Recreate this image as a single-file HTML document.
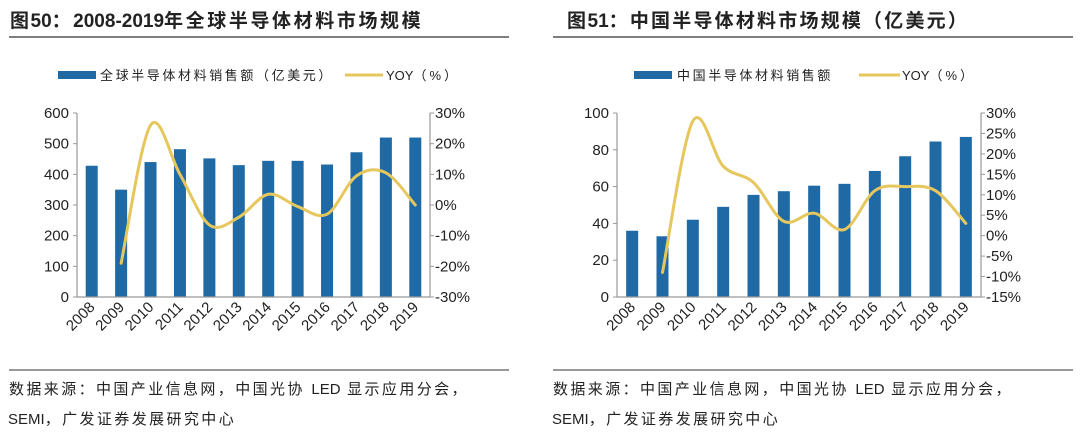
<!DOCTYPE html>
<html><head><meta charset="utf-8"><style>
body{margin:0;background:#fff;width:1080px;height:437px;overflow:hidden;font-family:"Liberation Sans","Noto Sans CJK SC",sans-serif;}
svg{position:absolute;left:0;top:0}
</style></head><body>
<svg id="s" width="1080" height="437">
<g>
<text x="10" y="27" font-size="19" font-weight="bold" fill="#222"><tspan letter-spacing="1.5">图</tspan>50<tspan letter-spacing="2.5">：</tspan>2008-2019<tspan letter-spacing="2.6">年全球半导体材料市场规模</tspan></text>
<line x1="9" y1="37" x2="509" y2="37" stroke="#555" stroke-width="1.5"/>
<rect x="58" y="71" width="38" height="8" fill="#1f6aa5"/>
<text x="100" y="80" font-size="13" fill="#222" letter-spacing="2.6">全球半导体材料销售额（亿美元）</text>
<line x1="345" y1="75" x2="383" y2="75" stroke="#e6c75e" stroke-width="3"/>
<text x="386" y="80" font-size="13" fill="#222">YOY<tspan letter-spacing="3">（%）</tspan></text>
</g>
<g>
<text x="567" y="27" font-size="19" font-weight="bold" fill="#222"><tspan letter-spacing="1.5">图</tspan>51<tspan letter-spacing="2.2">：中国半导体材料市场规模（亿美元）</tspan></text>
<line x1="553" y1="37" x2="1073" y2="37" stroke="#555" stroke-width="1.5"/>
<rect x="634" y="71" width="38" height="8" fill="#1f6aa5"/>
<text x="677" y="80" font-size="13" fill="#222" letter-spacing="2.6">中国半导体材料销售额</text>
<line x1="859" y1="75" x2="900" y2="75" stroke="#e6c75e" stroke-width="3"/>
<text x="902" y="80" font-size="13" fill="#222">YOY<tspan letter-spacing="3">（%）</tspan></text>
</g>
<g>
<line x1="9" y1="370" x2="509" y2="370" stroke="#333" stroke-width="1"/>
<text x="9" y="394" font-size="15" fill="#222"><tspan letter-spacing="2.4">数据来源：中国产业信息网，中国光协 </tspan>LED<tspan letter-spacing="2.4"> 显示应用分会，</tspan></text>
<text x="8" y="424" font-size="15" fill="#222">SEMI<tspan letter-spacing="2.4">，广发证券发展研究中心</tspan></text>
<line x1="553" y1="370" x2="1073" y2="370" stroke="#333" stroke-width="1"/>
<text x="553" y="394" font-size="15" fill="#222"><tspan letter-spacing="2.4">数据来源：中国产业信息网，中国光协 </tspan>LED<tspan letter-spacing="2.4"> 显示应用分会，</tspan></text>
<text x="552" y="424" font-size="15" fill="#222">SEMI<tspan letter-spacing="2.4">，广发证券发展研究中心</tspan></text>
</g>
</svg>
<script>
const years=['2008','2009','2010','2011','2012','2013','2014','2015','2016','2017','2018','2019'];
const globalSales=[428,350,440,482,452,430,444,444,432,472,520,520];
const globalYoy=[null,-19,26,10,-6.5,-4,3.5,-0.5,-3,9.5,10.5,0];
const globalLeftTicks=[0,100,200,300,400,500,600];
const globalRightTicks=[-30,-20,-10,0,10,20,30];
const chinaSales=[36,33,42,49,55.5,57.5,60.5,61.5,68.5,76.5,84.5,87];
const chinaYoy=[null,-9,28,17,13,3.5,5.5,1.5,11,12,11,3];
const chinaLeftTicks=[0,20,40,60,80,100];
const chinaRightTicks=[-15,-10,-5,0,5,10,15,20,25,30];

const NS='http://www.w3.org/2000/svg';
const svg=document.getElementById('s');
function mk(tag,attrs,parent){const e=document.createElementNS(NS,tag);for(const k in attrs)e.setAttribute(k,attrs[k]);(parent||svg).appendChild(e);return e;}

function draw(prefix,x0,x1,sales,yoy,lt,rt){
  const yTop=113,yBot=297;
  const g=mk('g',{});
  
  
  const lmin=lt[0],lmax=lt[lt.length-1],rmin=rt[0],rmax=rt[rt.length-1];
  const yL=v=>yBot-(v-lmin)/(lmax-lmin)*(yBot-yTop);
  const yR=v=>yBot-(v-rmin)/(rmax-rmin)*(yBot-yTop);
  const band=(x1-x0)/years.length;
  const xc=i=>x0+band*(i+0.5);
  const al=mk('line',{x1:x0,y1:yTop,x2:x0,y2:yBot,stroke:'#999','stroke-width':1.2},g);
  
  
  const ar=mk('line',{x1:x1,y1:yTop,x2:x1,y2:yBot,stroke:'#999','stroke-width':1.2},g);
  
  
  lt.forEach(t=>{
    const y=yL(t);
    mk('line',{x1:x0-4,y1:y,x2:x0,y2:y,stroke:'#999'},g);
    const tx=mk('text',{x:x0-8,y:y+5,'font-size':15,'text-anchor':'end',fill:'#222'},g);
    tx.textContent=t;
    
    
  });
  rt.forEach(t=>{
    const y=yR(t);
    mk('line',{x1:x1,y1:y,x2:x1+4,y2:y,stroke:'#999'},g);
    const tx=mk('text',{x:x1+5,y:y+5,'font-size':15,fill:'#222'},g);
    tx.textContent=t+'%';
    
    
  });
  sales.forEach((v,i)=>{
    const r=mk('rect',{x:xc(i)-6,y:yL(v),width:12,height:yBot-yL(v),fill:'#1f6aa5'},g);
    
    
  });
  mk('line',{x1:x0,y1:yBot,x2:x1,y2:yBot,stroke:'#999','stroke-width':1.2},g);
  years.forEach((yr,i)=>{
    const tx=mk('text',{x:xc(i)+4,y:yBot+11,'font-size':15,'text-anchor':'end',fill:'#222',transform:`rotate(-45 ${xc(i)+4} ${yBot+11})`},g);
    tx.textContent=yr;
    
    
  });
  const pts=[];
  yoy.forEach((v,i)=>{if(v!==null)pts.push([xc(i),yR(v)]);});
  let d='M'+pts[0][0]+','+pts[0][1];
  for(let i=0;i<pts.length-1;i++){
    const p0=pts[Math.max(0,i-1)],p1=pts[i],p2=pts[i+1],p3=pts[Math.min(pts.length-1,i+2)];
    const c1=[p1[0]+(p2[0]-p0[0])/6,p1[1]+(p2[1]-p0[1])/6];
    const c2=[p2[0]-(p3[0]-p1[0])/6,p2[1]-(p3[1]-p1[1])/6];
    d+=` C${c1[0]},${c1[1]} ${c2[0]},${c2[1]} ${p2[0]},${p2[1]}`;
  }
  const pl=mk('path',{d:d,fill:'none',stroke:'#e6c75e','stroke-width':3,'stroke-linecap':'round'},g);
  
  
}
draw('global',77,430,globalSales,globalYoy,globalLeftTicks,globalRightTicks);
draw('china',617,981,chinaSales,chinaYoy,chinaLeftTicks,chinaRightTicks);
</script>
</body></html>
